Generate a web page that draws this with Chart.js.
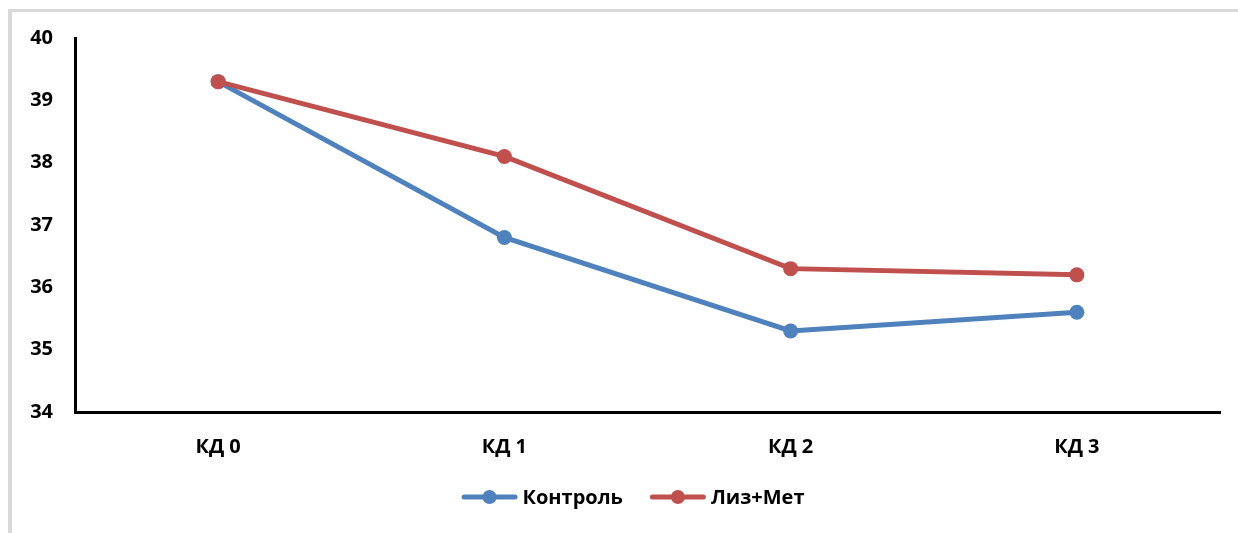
<!DOCTYPE html>
<html>
<head>
<meta charset="utf-8">
<script src="https://cdn.jsdelivr.net/npm/chart.js@4/dist/chart.umd.min.js"></script>
<style>
  html, body { margin: 0; padding: 0; background: #ffffff; }
  #wrap { position: relative; width: 1238px; height: 533px; overflow: hidden; }
  #frame { position: absolute; left: 8px; top: 9px; right: -10px; bottom: -10px;
           border-left: 4px solid #d9d9d9; border-top: 3px solid #d9d9d9; }
  canvas { position: absolute; left: 0; top: 0; }
</style>
</head>
<body>
<div id="wrap">
  <div id="frame"></div>
  <canvas id="chart" width="1238" height="533"></canvas>
</div>
<script>
// Days of observation
const categories = ['КД 0', 'КД 1', 'КД 2', 'КД 3'];
// Series values
const controlValues = [39.3, 36.8, 35.3, 35.6];
const lizMetValues = [39.3, 38.1, 36.3, 36.2];
const seriesNames = ['Контроль', 'Лиз+Мет'];
// Value axis
const yMin = 34;
const yMax = 40;
const yStep = 1;

const FONT = "'Open Sans', 'DejaVu Sans', sans-serif";
const BLUE = '#4F81BD';
const RED = '#C0504D';

// Legend drawn as line + marker + label, centred under the plot
const lineLegend = {
  id: 'lineLegend',
  afterDraw(chart) {
    const ctx = chart.ctx;
    const y = 497;
    const lineLen = 56, gapText = 5, gapItem = 27;
    ctx.save();
    ctx.font = 'bold 20px ' + FONT;
    ctx.textBaseline = 'middle';
    const items = chart.data.datasets.map(ds => ({
      ds, w: lineLen + gapText + ctx.measureText(ds.label).width
    }));
    const total = items.reduce((s, it) => s + it.w, 0) + gapItem * (items.length - 1);
    let x = 633 - total / 2;
    items.forEach(it => {
      ctx.strokeStyle = it.ds.borderColor;
      ctx.lineWidth = 5;
      ctx.lineCap = 'round';
      ctx.beginPath();
      ctx.moveTo(x + 2.5, y);
      ctx.lineTo(x + lineLen - 2.5, y);
      ctx.stroke();
      ctx.fillStyle = it.ds.backgroundColor;
      ctx.beginPath();
      ctx.arc(x + lineLen / 2, y, 7, 0, Math.PI * 2);
      ctx.fill();
      ctx.fillStyle = '#000000';
      ctx.textAlign = 'left';
      ctx.fillText(it.ds.label, x + lineLen + gapText, y + 1);
      x += it.w + gapItem;
    });
    ctx.restore();
  }
};

new Chart(document.getElementById('chart'), {
  type: 'line',
  data: {
    labels: categories,
    datasets: [
      {
        label: seriesNames[0], data: controlValues,
        borderColor: BLUE, backgroundColor: BLUE,
        borderWidth: 5, pointRadius: 7.5, pointHoverRadius: 7.5,
        pointBorderWidth: 0, tension: 0, order: 2
      },
      {
        label: seriesNames[1], data: lizMetValues,
        borderColor: RED, backgroundColor: RED,
        borderWidth: 5, pointRadius: 7.5, pointHoverRadius: 7.5,
        pointBorderWidth: 0, tension: 0, order: 1
      }
    ]
  },
  options: {
    responsive: false,
    animation: false,
    layout: { padding: { left: 0, right: 18, top: 38, bottom: 0 } },
    plugins: { legend: { display: false }, tooltip: { enabled: false } },
    scales: {
      x: {
        offset: true,
        grid: { display: false, drawTicks: false },
        border: { display: true, color: '#000000', width: 3 },
        ticks: { color: '#000000', font: { family: FONT, size: 20, weight: 'bold' }, padding: 23 },
        afterFit(scale) { scale.height = 121; }
      },
      y: {
        min: yMin, max: yMax,
        grid: { display: false, drawTicks: false },
        border: { display: true, color: '#000000', width: 3 },
        ticks: { stepSize: yStep, color: '#000000', font: { family: FONT, size: 20, weight: 'bold' }, padding: 22 },
        afterFit(scale) { scale.width = 75; }
      }
    }
  },
  plugins: [lineLegend]
});
</script>
</body>
</html>
